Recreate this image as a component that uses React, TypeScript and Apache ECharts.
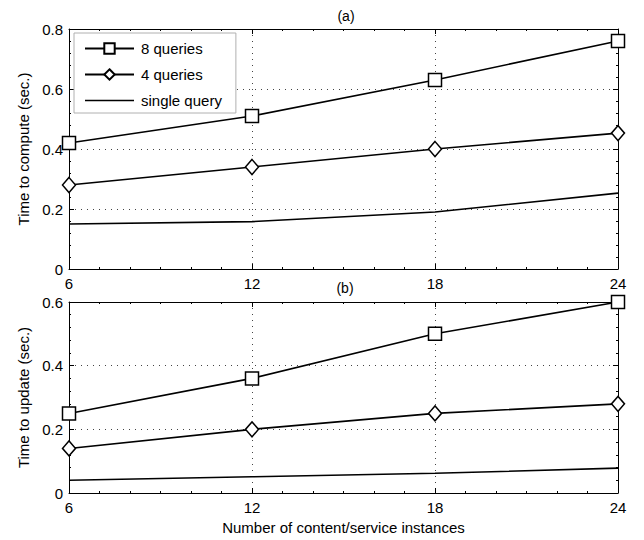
import React, { useEffect, useRef } from "react";
import * as echarts from "echarts";

const xValues = [6, 12, 18, 24];
const seriesNames = ["8 queries", "4 queries", "single query"];
const computeEight = [0.42, 0.51, 0.63, 0.76];
const computeFour = [0.28, 0.34, 0.4, 0.453];
const computeSingle = [0.15, 0.158, 0.19, 0.253];
const updateEight = [0.25, 0.36, 0.5, 0.6];
const updateFour = [0.14, 0.2, 0.25, 0.28];
const updateSingle = [0.04, 0.051, 0.062, 0.078];
const xTickLabels = ["6", "12", "18", "24"];

const FONT = "'Liberation Sans', Arial, Helvetica, sans-serif";

function pairs(ys: number[]) {
  return xValues.map((x, i) => [x, ys[i]]);
}

const symbols = ["rect", "diamond", "none"];

export default function App() {
  const ref = useRef<HTMLDivElement>(null);
  useEffect(() => {
    const chart = echarts.init(ref.current!, null, { renderer: "svg" });

    const baseX = (grid: number, pos: "bottom" | "top", labels: boolean) => ({
      type: "value",
      gridIndex: grid,
      position: pos,
      min: 6,
      max: 24,
      interval: 6,
      axisLine: { show: true, onZero: false, lineStyle: { color: "#000", width: 1 } },
      axisTick: { show: true, inside: true, length: 5, lineStyle: { color: "#000" } },
      minorTick: { show: true, splitNumber: 6, length: 2, lineStyle: { color: "#000" } },
      axisLabel: {
        show: labels,
        color: "#000",
        fontSize: 15,
        fontFamily: FONT,
        margin: 7,
        formatter: (v: number) => xTickLabels[xValues.indexOf(v)] ?? String(v),
      },
      splitLine: {
        show: pos === "bottom",
        lineStyle: { color: "#444", type: [1, 5], width: 1 },
      },
    });

    const baseY = (grid: number, pos: "left" | "right", max: number, labels: boolean, name: string) => ({
      type: "value",
      gridIndex: grid,
      position: pos,
      min: 0,
      max,
      interval: 0.2,
      name: labels ? name : "",
      nameLocation: "middle",
      nameGap: 37,
      nameTextStyle: { color: "#000", fontSize: 15, fontFamily: FONT },
      axisLine: { show: true, onZero: false, lineStyle: { color: "#000", width: 1 } },
      axisTick: { show: true, inside: true, length: 5, lineStyle: { color: "#000" } },
      minorTick: { show: true, splitNumber: 5, length: 2, lineStyle: { color: "#000" } },
      axisLabel: {
        show: labels,
        color: "#000",
        fontSize: 15,
        fontFamily: FONT,
        margin: 6,
        formatter: (v: number) => (v === 0 ? "0" : v.toFixed(1)),
      },
      splitLine: {
        show: pos === "left",
        lineStyle: { color: "#444", type: [1, 5], width: 1 },
      },
    });

    const mkSeries = (name: string, data: number[], idx: number, grid: number) => ({
      name,
      type: "line",
      xAxisIndex: grid * 2,
      yAxisIndex: grid * 2,
      data: pairs(data),
      symbol: symbols[idx],
      symbolSize: idx === 0 ? 13 : [13, 15],
      showSymbol: idx !== 2,
      itemStyle: { color: "#fff", borderColor: "#000", borderWidth: 1.5 },
      lineStyle: { color: "#000", width: 1.6 },
      clip: false,
      z: 5,
    });

    chart.setOption({
      animation: false,
      backgroundColor: "#fff",
      textStyle: { fontFamily: FONT },
      title: [
        { text: "(a)", left: 341, top: 4, textAlign: "center", textStyle: { fontSize: 14, fontWeight: "normal", color: "#000", fontFamily: FONT } },
        { text: "(b)", left: 340, top: 276, textAlign: "center", textStyle: { fontSize: 14, fontWeight: "normal", color: "#000", fontFamily: FONT } },
      ],
      legend: {
        orient: "vertical",
        left: 74,
        top: 33,
        data: [
          seriesNames[0],
          seriesNames[1],
          {
            name: seriesNames[2],
            icon: "path://M0,0 L49,0 L49,1.6 L0,1.6 Z",
            itemStyle: { color: "#000", borderWidth: 0 },
          },
        ],
        itemWidth: 49,
        itemHeight: 13,
        itemGap: 11,
        padding: [8, 14, 5, 10],
        borderColor: "#b0b0b0",
        borderWidth: 1,
        backgroundColor: "#fff",
        textStyle: { fontSize: 15, color: "#000", fontFamily: FONT, padding: [0, 0, 0, 2] },
        z: 10,
      },
      grid: [
        { left: 69, right: 26, top: 29, height: 240 },
        { left: 69, right: 26, top: 302, height: 191 },
      ],
      xAxis: [
        baseX(0, "bottom", true),
        baseX(0, "top", false),
        { ...baseX(1, "bottom", true), name: "Number of content/service instances", nameLocation: "middle", nameGap: 27, nameTextStyle: { color: "#000", fontSize: 15, fontFamily: FONT } },
        baseX(1, "top", false),
      ],
      yAxis: [
        baseY(0, "left", 0.8, true, "Time to compute (sec.)"),
        baseY(0, "right", 0.8, false, ""),
        baseY(1, "left", 0.6, true, "Time to update (sec.)"),
        baseY(1, "right", 0.6, false, ""),
      ],
      series: [
        mkSeries(seriesNames[0], computeEight, 0, 0),
        mkSeries(seriesNames[1], computeFour, 1, 0),
        mkSeries(seriesNames[2], computeSingle, 2, 0),
        mkSeries(seriesNames[0], updateEight, 0, 1),
        mkSeries(seriesNames[1], updateFour, 1, 1),
        mkSeries(seriesNames[2], updateSingle, 2, 1),
      ],
    });
    return () => chart.dispose();
  }, []);
  return <div ref={ref} style={{ width: 644, height: 540, position: "absolute", left: 0, top: 0 }} />;
}
